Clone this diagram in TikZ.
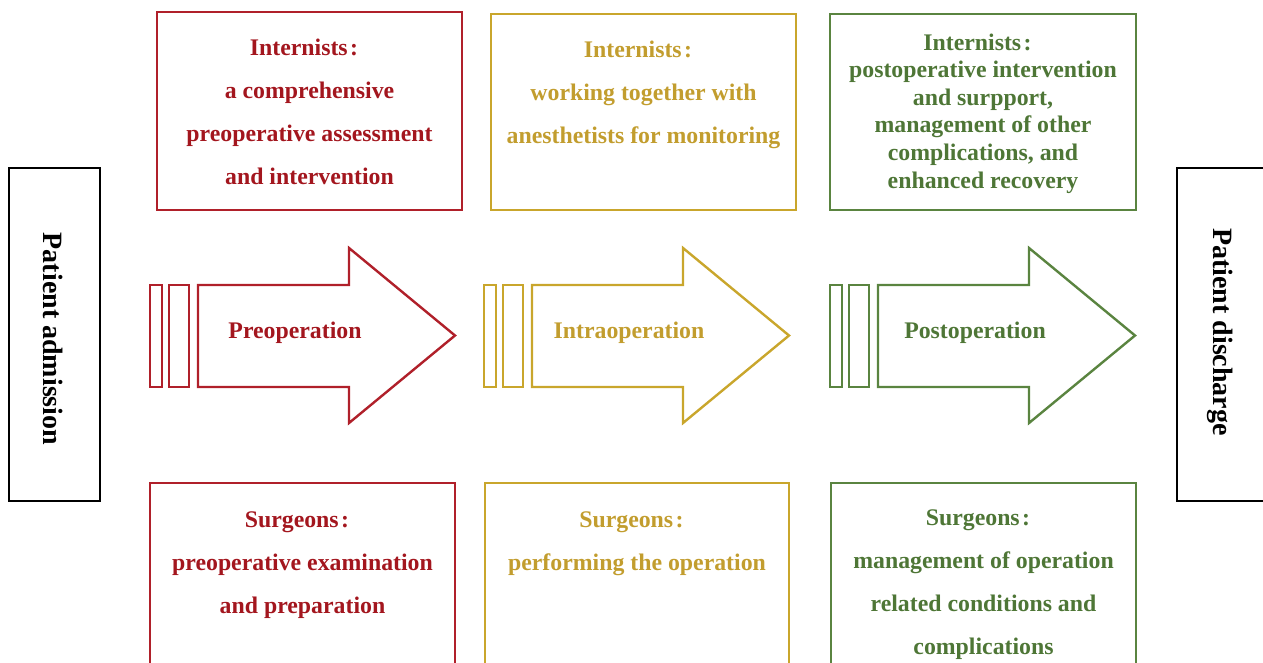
\documentclass[tikz,border=0pt]{standalone}
\usepackage{fontspec}
\setmainfont{Liberation Serif}
% wide colon after the role names
\newcommand\fcolon{\kern2.5pt:\kern11pt}
% stacked lines whose baseline is the first line's baseline
\newcommand\stack[1]{\begin{tabular}[t]{@{}c@{}}#1\end{tabular}}

\definecolor{pred}{RGB}{176,32,42}
\definecolor{predt}{RGB}{163,22,30}
\definecolor{pyel}{RGB}{201,166,44}
\definecolor{pyelt}{RGB}{194,157,46}
\definecolor{pgrn}{RGB}{90,132,64}
\definecolor{pgrnt}{RGB}{78,118,54}

\begin{document}
\begin{tikzpicture}[x=1pt,y=-1pt,
  frame/.style={draw=#1, line width=2pt, inner sep=0pt},
  endbox/.style={draw=black, line width=2.2pt, inner sep=0pt},
  arrowline/.style={draw=#1, line width=2.4pt, line join=miter},
  lab/.style={text=#1, inner sep=0pt, anchor=base,
    font=\bfseries\fontsize{23.8}{43}\selectfont},
  tightlab/.style={text=#1, inner sep=0pt, anchor=base,
    font=\bfseries\fontsize{23.8}{27.6}\selectfont},
  vlab/.style={inner sep=0pt, rotate=-90,
    font=\bfseries\fontsize{28}{30}\selectfont}]
\useasboundingbox (0,0) rectangle (1263,662);
\clip (0,0) rectangle (1263,662);

% admission and discharge boxes
\node[endbox, minimum width=91pt, minimum height=333pt] (adm) at (54.5,334.5) {};
\node[vlab] (admt) at (53,339) {Patient admission};
\node[endbox, minimum width=113pt, minimum height=333pt] (dis) at (1233.5,334.5) {};
\node[vlab] (dist) at (1220,332) {Patient discharge};

% internists (top row)
\node[frame=pred, minimum width=305pt, minimum height=198pt] (i1) at (309.5,111) {};
\node[lab=predt] (i1t) at (309.5,55) {\stack{Internists\fcolon\\a comprehensive\\preoperative assessment\\and intervention}};

\node[frame=pyel, minimum width=305pt, minimum height=196pt] (i2) at (643.5,112) {};
\node[lab=pyelt] (i2t) at (643.5,57) {\stack{Internists\fcolon\\working together with\\anesthetists for monitoring}};

\node[frame=pgrn, minimum width=306pt, minimum height=196pt] (i3) at (983,112) {};
\node[tightlab=pgrnt] (i3t) at (983,50) {\stack{Internists\fcolon\\postoperative intervention\\and surpport,\\management of other\\complications, and\\enhanced recovery}};

% surgeons (bottom row)
\node[frame=pred, minimum width=305pt, minimum height=220pt] (s1) at (302.5,593) {};
\node[lab=predt] (s1t) at (302.5,527) {\stack{Surgeons\fcolon\\preoperative examination\\and preparation}};

\node[frame=pyel, minimum width=304pt, minimum height=220pt] (s2) at (637,593) {};
\node[lab=pyelt] (s2t) at (637,527) {\stack{Surgeons\fcolon\\performing the operation}};

\node[frame=pgrn, minimum width=305pt, minimum height=220pt] (s3) at (983.5,593) {};
\node[lab=pgrnt] (s3t) at (983.5,525) {\stack{Surgeons\fcolon\\management of operation\\related conditions and\\complications}};

% phase arrows with their two leading bars
\foreach \dx/\c in {0/pred, 334/pyel, 680/pgrn} {
  \begin{scope}[xshift=\dx pt]
    \draw[arrowline=\c] (198,285) -- (349,285) -- (349,248) -- (455,335.5)
      -- (349,423) -- (349,387) -- (198,387) -- cycle;
    \draw[arrowline=\c] (150,285) rectangle (162,387);
    \draw[arrowline=\c] (169,285) rectangle (189,387);
  \end{scope}
}
\node[lab=predt] (p1) at (295,338) {Preoperation};
\node[lab=pyelt] (p2) at (629,338) {Intraoperation};
\node[lab=pgrnt] (p3) at (975,338) {Postoperation};
\end{tikzpicture}
\end{document}
